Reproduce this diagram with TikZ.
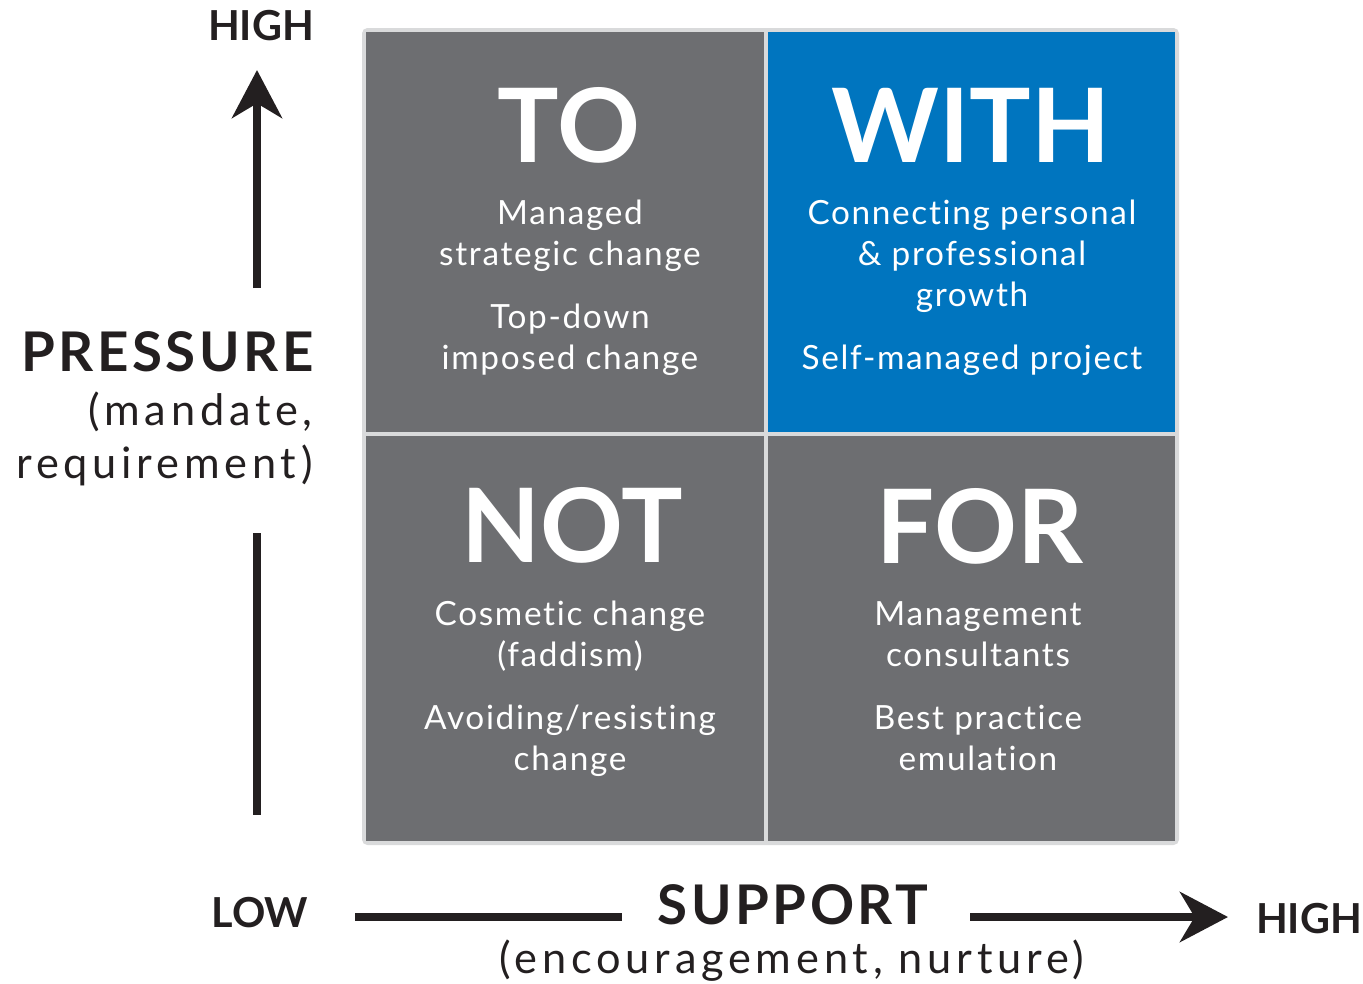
\documentclass[tikz,border=0pt]{standalone}
\usepackage{fontspec}
\setmainfont{Lato}
\newfontfamily\spacedfont[LetterSpace=6.5]{Lato}
\newfontfamily\widefont[LetterSpace=11,Ligatures=NoCommon]{Lato}
\newfontfamily\bodyfont[LetterSpace=5,Ligatures=NoCommon]{Lato}
\usetikzlibrary{arrows.meta}
\definecolor{cellgray}{HTML}{6D6E71}
\definecolor{cellblue}{HTML}{0075BF}
\definecolor{framegray}{HTML}{D9DADB}
\definecolor{ink}{HTML}{231F20}
\tikzset{
  title/.style={anchor=base, inner sep=0pt, text=white, font=\fontsize{77}{80}\selectfont\bfseries},
  body/.style={anchor=base, inner sep=0pt, text=white, font=\fontsize{25}{30}\bodyfont},
  axislabel/.style={anchor=base, inner sep=0pt, text=ink, font=\fontsize{31}{36}\selectfont\bfseries},
  bigaxis/.style={anchor=base, inner sep=0pt, text=ink, font=\fontsize{41}{46}\spacedfont\bfseries},
  subaxis/.style={anchor=base, inner sep=0pt, text=ink, font=\fontsize{32.5}{36}\widefont},
  axisline/.style={draw=ink, line width=6pt},
  axisarrow/.style={axisline, -{Stealth[length=36pt,width=37.5pt,inset=11pt]}}
}
\begin{document}
\begin{tikzpicture}[x=0.75pt,y=-0.75pt]
\useasboundingbox (0,0) rectangle (1363,983);
% frame and cells
\fill[framegray, rounded corners=4] (362,28) rectangle (1179,845);
\fill[cellgray] (366,32) rectangle (764,432);
\fill[cellblue] (768,32) rectangle (1175,432);
\fill[cellgray] (366,436) rectangle (764,841);
\fill[cellgray] (768,436) rectangle (1175,841);
% titles
\node[title] (to) at (569,162) {TO};
\node[title] (with) at (971,162) {WITH};
\node[title] (not) at (572,562) {NOT};
\node[title] (for) at (980,563) {FOR};
% TO cell
\node[body] (to1) at (570,224) {Managed};
\node[body] (to2) at (570,265) {strategic change};
\node[body] (to3) at (570,328) {Top-down};
\node[body] (to4) at (570,369) {imposed change};
% WITH cell
\node[body] (w1) at (972,224) {Connecting personal};
\node[body] (w2) at (972,265) {\& professional};
\node[body] (w3) at (972,306) {growth};
\node[body] (w4) at (972,369) {Self-managed project};
% NOT cell
\node[body] (n1) at (570,625) {Cosmetic change};
\node[body] (n2) at (570,666) {(faddism)};
\node[body] (n3) at (570,729) {Avoiding/resisting};
\node[body] (n4) at (570,770) {change};
% FOR cell
\node[body] (f1) at (978,625) {Management};
\node[body] (f2) at (978,666) {consultants};
\node[body] (f3) at (978,729) {Best practice};
\node[body] (f4) at (978,770) {emulation};
% vertical axis
\node[axislabel] (vhigh) at (261,40) {HIGH};
\node[bigaxis, anchor=base east] (press) at (314,371) {PRESSURE};
\node[subaxis, anchor=base east] (mand) at (313,425) {(mandate,};
\node[subaxis, anchor=base east] (req) at (313,478) {requirement)};
\coordinate (upstart) at (257,288);
\coordinate (uptip) at (257,70);
\coordinate (lowtop) at (257,533);
\coordinate (lowbot) at (257,815);
\draw[axisarrow] (upstart) -- (uptip);
\draw[axisline] (lowtop) -- (lowbot);
% horizontal axis
\node[axislabel] (low) at (260,927) {LOW};
\node[axislabel] (hhigh) at (1309,933) {HIGH};
\node[bigaxis] (supp) at (793,924) {SUPPORT};
\node[subaxis] (enc) at (792,973) {(encouragement, nurture)};
\coordinate (hlstart) at (355,917);
\coordinate (hlend) at (622,917);
\coordinate (hrstart) at (970,917);
\coordinate (hrtip) at (1228,917);
\draw[axisline] (hlstart) -- (hlend);
\draw[axisarrow] (hrstart) -- (hrtip);
\end{tikzpicture}
\end{document}
